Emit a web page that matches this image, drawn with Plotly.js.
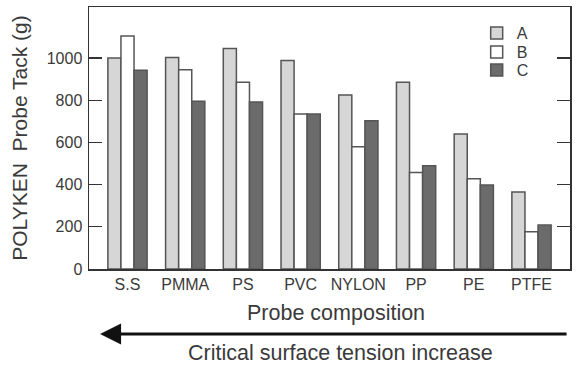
<!DOCTYPE html>
<html>
<head>
<meta charset="utf-8">
<script src="https://cdn.plot.ly/plotly-3.0.1.min.js"></script>
<style>html,body{margin:0;padding:0;background:#fff;}#chart{width:576px;height:366px;}</style>
</head>
<body>
<div id="chart"></div>
<script>
const categories = ["S.S", "PMMA", "PS", "PVC", "NYLON", "PP", "PE", "PTFE"];
const seriesNames = ["A", "B", "C"];
const valuesA = [1000, 1003, 1045, 988, 825, 885, 640, 365];
const valuesB = [1105, 945, 885, 735, 580, 458, 428, 177];
const valuesC = [942, 795, 792, 735, 703, 490, 398, 208];
const yTickVals = [0, 200, 400, 600, 800, 1000];

const fills = ["#d6d6d6", "#ffffff", "#6b6b6b"];
const edge = "#555555";
const font = "Liberation Sans, Arial, sans-serif";
const ink = "#3a3a3a";
const legendIds = ["legend", "legend2", "legend3"];
const legendY = [0.9, 0.828, 0.759];

const allVals = [valuesA, valuesB, valuesC];
const traces = allVals.map((v, i) => ({
  type: "bar",
  name: seriesNames[i],
  legend: legendIds[i],
  x: categories,
  y: v,
  marker: { color: fills[i], line: { color: edge, width: 1.5 } }
}));

function legendBox(y) {
  return {
    x: 0.806, y: y, xanchor: "left", yanchor: "middle",
    bgcolor: "rgba(0,0,0,0)",
    font: { family: font, size: 16, color: ink }
  };
}

const layout = {
  width: 576, height: 366,
  margin: { l: 89, r: 6, t: 7, b: 97 },
  paper_bgcolor: "#ffffff",
  plot_bgcolor: "#ffffff",
  barmode: "group",
  bargap: 0.32,
  bargroupgap: 0,
  font: { family: font, color: ink, size: 16 },
  showlegend: true,
  legend: legendBox(legendY[0]),
  legend2: legendBox(legendY[1]),
  legend3: legendBox(legendY[2]),
  xaxis: {
    type: "category",
    range: [-0.667, 7.667],
    showline: true, linecolor: "#333", linewidth: 1.5, mirror: true,
    ticks: "", showgrid: false, zeroline: false,
    tickfont: { family: font, size: 16, color: ink }
  },
  yaxis: {
    range: [0, 1242],
    tickvals: yTickVals,
    ticktext: yTickVals.map(String),
    ticks: "inside", ticklen: 13, tickwidth: 1.2, tickcolor: "#333",
    showline: true, linecolor: "#333", linewidth: 1.5, mirror: "ticks",
    showgrid: false, zeroline: false,
    tickfont: { family: font, size: 16, color: ink },
    ticklabelstandoff: 2,
    title: { text: "POLYKEN  Probe Tack (g)", font: { family: font, size: 21, color: ink }, standoff: 13 }
  },
  annotations: [
    {
      xref: "paper", yref: "paper",
      x: 0.5135, y: -0.168, xanchor: "center", yanchor: "middle",
      showarrow: false,
      text: "Probe composition",
      font: { family: font, size: 21.5, color: ink }
    },
    {
      xref: "paper", yref: "paper",
      x: 0.023, y: -0.248,
      ax: 468, ay: 0,
      showarrow: true, arrowhead: 2, arrowsize: 1.4, arrowwidth: 3, arrowcolor: "#111",
      text: ""
    },
    {
      xref: "paper", yref: "paper",
      x: 0.522, y: -0.32, xanchor: "center", yanchor: "middle",
      showarrow: false,
      text: "Critical surface tension increase",
      font: { family: font, size: 21.5, color: ink }
    }
  ]
};

Plotly.newPlot("chart", traces, layout, { staticPlot: true, displayModeBar: false });
</script>
</body>
</html>
